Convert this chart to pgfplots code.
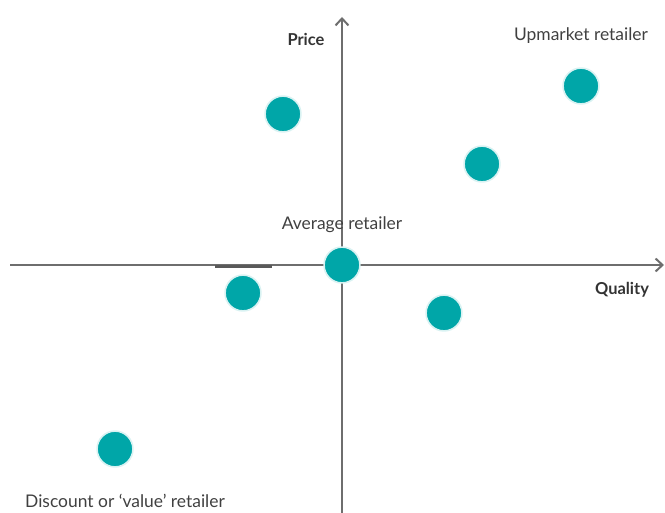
\documentclass[border=0pt]{standalone}
\usepackage{pgfplots}
\pgfplotsset{compat=1.18}
\usepackage{fontspec}
\setmainfont{Lato}
\usetikzlibrary{arrows.meta}
\definecolor{teal1}{RGB}{0,166,168}
\definecolor{axgray}{RGB}{110,110,110}
\begin{document}
\begin{tikzpicture}
\begin{axis}[
  scale only axis, width=665bp, height=513bp,
  xmin=-342, xmax=323, ymin=-248, ymax=265,
  axis lines=none, clip=false,
]
\coordinate (LL) at (rel axis cs:0,0);
\coordinate (UR) at (rel axis cs:1,1);
\draw[axgray, line width=2bp, -{Straight Barb[length=7bp,width=13bp]}] (axis cs:0,-248) -- (axis cs:0,248);
\draw[axgray, line width=2bp, -{Straight Barb[length=7bp,width=13bp]}] (axis cs:-332,0) -- (axis cs:322,0);
\draw[black!65, line width=2.5bp] (axis cs:-127,-1.5) -- (axis cs:-70,-1.5);
\addplot[only marks, mark=*, mark size=18pt, mark options={fill=teal1, draw=teal1!15, line width=1.6bp}] coordinates {
(-59,151) (239,179) (140,101) (0,0) (-99,-28) (102,-48) (-227,-184)
};
\node[font=\bfseries\fontsize{16.5}{18}\selectfont, text=black!80] at (axis cs:-36,226) {Price};
\node[font=\fontsize{17.5}{19}\selectfont, text=black!75] at (axis cs:239,229) {Upmarket retailer};
\node[font=\bfseries\fontsize{16.5}{18}\selectfont, text=black!80] at (axis cs:280,-25) {Quality};
\node[font=\fontsize{17.5}{19}\selectfont, text=black!75] at (axis cs:0,40) {Average retailer};
\node[font=\fontsize{17.5}{19}\selectfont, text=black!75] at (axis cs:-217,-236) {Discount or ‘value’ retailer};
\end{axis}
\pgfresetboundingbox
\useasboundingbox (LL) rectangle (UR);
\end{tikzpicture}
\end{document}
